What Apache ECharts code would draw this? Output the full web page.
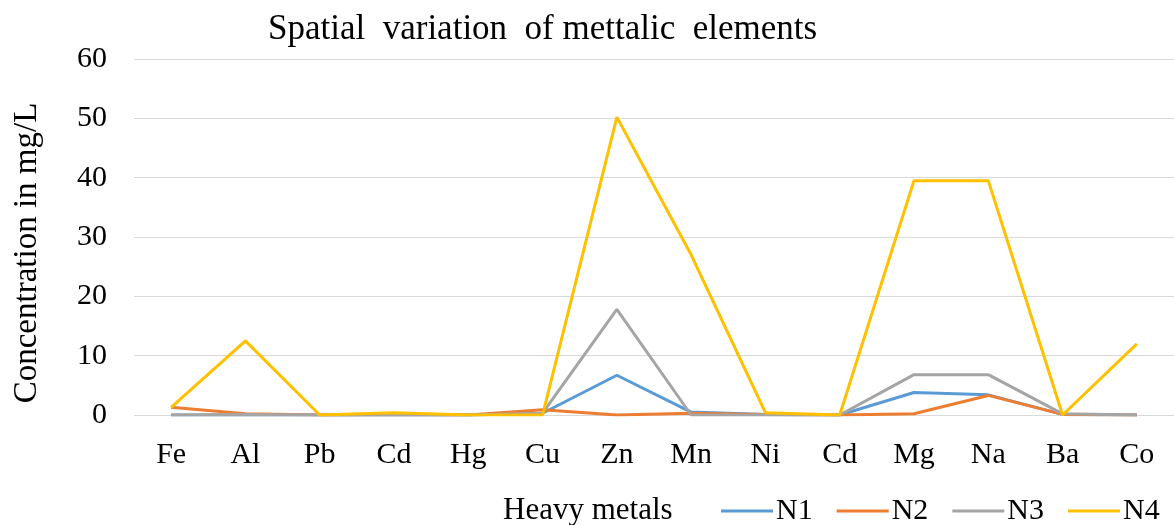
<!DOCTYPE html>
<html>
<head>
<meta charset="utf-8">
<script src="https://cdn.jsdelivr.net/npm/echarts@6/dist/echarts.min.js"></script>
<style>
html,body{margin:0;padding:0;background:#fff;}
#chart{width:1174px;height:525px;}
</style>
</head>
<body>
<div id="chart"></div>
<script>
const categories = ['Fe','Al','Pb','Cd','Hg','Cu','Zn','Mn','Ni','Cd','Mg','Na','Ba','Co'];
const yTicks = [0,10,20,30,40,50,60];
const N1 = [0, 0, 0, 0, 0, 0.3, 6.7, 0.5, 0.1, 0, 3.8, 3.4, 0.1, 0];
const N2 = [1.3, 0.2, 0, 0.1, 0, 0.9, 0, 0.3, 0.1, 0, 0.2, 3.3, 0.1, 0];
const N3 = [0, 0.1, 0, 0, 0, 0.3, 17.8, 0, 0, 0, 6.8, 6.8, 0.2, 0];
const N4 = [1.3, 12.5, 0, 0.4, 0, 0, 50.2, 27, 0.4, 0, 39.5, 39.5, 0, 12];
const seriesNames = ['N1','N2','N3','N4'];
const seriesData = [N1, N2, N3, N4];
const colors = ['#5B9BD5','#ED7D31','#A5A5A5','#FFC000'];

const FONT = "'Liberation Serif','Times New Roman',serif";
const chart = echarts.init(document.getElementById('chart'), null, {renderer:'canvas'});
chart.setOption({
  animation:false,
  backgroundColor:'#fff',
  title:{
    text:'Spatial  variation  of mettalic  elements',
    left:263, top:7,
    textStyle:{fontFamily:FONT, fontSize:35, fontWeight:'normal', color:'#000'}
  },
  grid:{left:134, right:0, top:59, bottom:110, containLabel:false},
  legend:{
    data:seriesNames,
    left:721, top:496, padding:0,
    icon:'rect', itemWidth:52, itemHeight:3, itemGap:24,
    textStyle:{fontFamily:FONT, fontSize:30, color:'#000', padding:[0,0,0,-2]}
  },
  xAxis:{
    type:'category',
    data:categories,
    boundaryGap:true,
    axisLine:{show:false},
    axisTick:{show:false},
    axisLabel:{fontFamily:FONT, fontSize:30, color:'#000', margin:25, interval:0}
  },
  yAxis:{
    type:'value',
    min:yTicks[0], max:yTicks[yTicks.length-1], interval:10,
    axisLine:{show:false},
    axisTick:{show:false},
    axisLabel:{fontFamily:FONT, fontSize:30, color:'#000', margin:27},
    splitLine:{lineStyle:{color:'#D9D9D9', width:1}}
  },
  graphic:[
    {type:'text', x:27, y:253, rotation:Math.PI/2,
     style:{text:'Concentration in mg/L', font:"33px 'Liberation Serif','Times New Roman',serif",
            fill:'#000', align:'center', verticalAlign:'middle'}},
    {type:'text', left:503, top:495,
     style:{text:'Heavy metals', font:"31px 'Liberation Serif','Times New Roman',serif", fill:'#000'}}
  ],
  series: seriesNames.map((n,i)=>({
    name:n, type:'line', data:seriesData[i],
    symbol:'none', smooth:false,
    lineStyle:{color:colors[i], width:3},
    itemStyle:{color:colors[i]},
    z:2+i
  }))
});
</script>
</body>
</html>
